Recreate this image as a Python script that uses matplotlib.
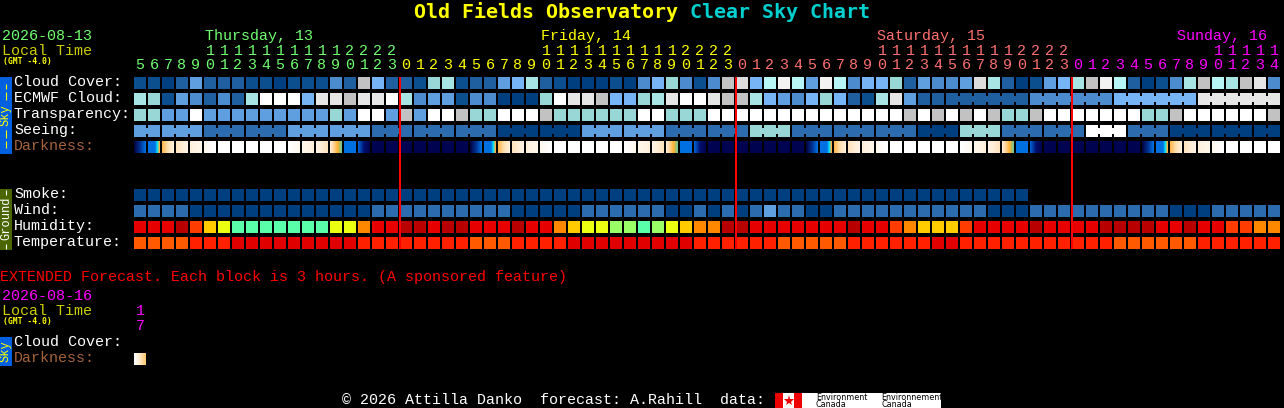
import numpy as np
import matplotlib
matplotlib.use("Agg")
import matplotlib.pyplot as plt
from matplotlib.colors import LinearSegmentedColormap
from matplotlib.patches import Rectangle

# sky colour levels, darkest blue to white and grey
sky_colors = ["#003f7f", "#0c4f8f", "#1f5f9f", "#2c6cae", "#4c8cce", "#5f9fe0", "#76b4f6", "#99d6d6",
              "#a8e4e4", "#b8f6f6", "#ffffff", "#f2f2f2", "#e6e6e6", "#dcdcdc", "#c2c2c2"]
humidity_colors = ["#b80000", "#e60000", "#ff3c00", "#ff8800", "#ffcc00", "#eaff12", "#9aff66", "#5affaa"]
temp_colors = ["#e00000", "#ff2000", "#ff5a00"]

cloud_cover = [1, 1, 0, 2, 5, 2, 2, 2, 1, 1, 0, 1, 1, 1, 4, 2, 14, 6, 2, 2, 1,
               7, 8, 1, 2, 2, 5, 6, 8, 2, 1, 0, 0, 0, 1, 0, 4, 6, 7, 4, 1, 4, 14, 13, 6, 9, 11, 9, 5, 11, 9, 4,
               6, 6, 7, 2, 5, 4, 4, 5, 13, 8, 2, 0, 1, 5, 6, 8, 14, 11, 9, 2, 0, 1, 4, 8, 14, 9, 8, 14, 12, 4]
ecmwf_cloud = [8, 7, 1, 5, 4, 2, 4, 2, 8, 10, 10, 10, 6, 12, 12, 14, 12, 12, 10, 8, 4,
               5, 5, 1, 4, 4, 0, 0, 0, 7, 10, 12, 12, 14, 6, 6, 7, 8, 12, 10, 10, 12, 14, 14, 8, 6, 5, 4, 6, 7, 6, 2,
               1, 8, 12, 5, 2, 2, 2, 2, 2, 2, 2, 2, 4, 4, 4, 4, 4, 4, 6, 6, 6, 6, 6, 6, 12, 12, 12, 12, 12, 12]
transparency = [7, 7, 5, 5, 10, 5, 5, 5, 5, 5, 5, 5, 5, 5, 7, 5, 10, 10, 5, 14, 5,
                10, 10, 14, 7, 7, 10, 10, 10, 14, 7, 7, 7, 7, 7, 7, 10, 10, 7, 7, 7, 10, 10, 10, 10, 10, 10, 10, 10, 10, 10, 10,
                10, 10, 10, 14, 10, 14, 10, 14, 10, 14, 7, 7, 14, 10, 10, 10, 10, 10, 10, 10, 7, 7, 14, 10, 10, 10, 10, 10, 10, 14]
seeing = [5, 5, 5, 5, 5, 3, 3, 3, 3, 3, 3, 5, 5, 5, 5, 5, 5, 3, 3, 3, 3, 3, 3, 3, 3, 3, 0, 0, 0, 0, 0, 0,
          5, 5, 5, 5, 5, 5, 3, 3, 3, 3, 3, 3, 7, 7, 7, 3, 3, 3, 3, 3, 3, 3, 3, 3, 0, 0, 0, 7, 7, 7,
          3, 3, 3, 3, 3, 3, 10, 10, 10, 3, 3, 3, 0, 0, 0, 0, 0, 0, 0, 0]
smoke = [0, 0, 0, 0, 0, 0, 0, 0, 0, 0, 0, 0, 0, 0, 0, 0, 0, 0, 0, 0, 0, 0, 0, 0, 0, 0, 0, 0, 0, 0, 0, 0,
         0, 0, 0, 0, 0, 0, 0, 0, 0, 0, 0, 0, 0, 0, 0, 0, 0, 0, 0, 0, 0, 0, 0, 0, 0, 0, 0, 0, 0, 0, 0, 0]
wind = [3, 3, 3, 3, 0, 0, 0, 0, 0, 0, 0, 0, 0, 0, 0, 0, 0, 3, 3, 3, 3, 3, 3, 3, 3, 3, 3, 0, 0, 0, 0, 0,
        3, 3, 3, 3, 3, 3, 0, 0, 3, 0, 3, 0, 3, 5, 3, 3, 0, 0, 3, 3, 3, 3, 3, 3, 3, 3, 3, 3, 3, 0, 0, 0,
        3, 3, 3, 3, 3, 3, 3, 3, 3, 3, 0, 0, 0, 3, 3, 3, 3, 3]
humidity = [1, 1, 1, 0, 2, 4, 5, 7, 7, 7, 7, 7, 7, 7, 5, 5, 3, 1, 1, 0, 0,
            1, 0, 0, 1, 1, 1, 0, 1, 1, 3, 4, 5, 5, 6, 6, 7, 6, 5, 4, 3, 3, 0, 0, 1, 1, 1, 1, 1, 1, 1, 0,
            1, 1, 2, 3, 4, 4, 4, 2, 1, 1, 1, 1, 0, 1, 1, 1, 1, 0, 0, 0, 0, 1, 1, 0, 1, 1, 2, 2, 3, 3]
temperature = [2, 2, 2, 2, 1, 1, 1, 0, 0, 0, 0, 0, 0, 0, 0, 0, 1, 1, 1, 1, 1, 1, 1, 1, 2, 2, 2, 1, 1, 1, 1,
               0, 0, 0, 0, 0, 0, 0, 0, 0, 1, 1, 1, 1, 1, 1, 2, 2, 2, 2, 2, 1,
               1, 1, 1, 1, 1, 0, 0, 1, 1, 1, 1, 1, 1, 1, 1, 1, 1, 1, 2, 2, 2, 2, 2, 2, 1, 1, 1, 1, 1, 1]

# darkness cells are gradients, each kind has its own colour stops
dark_kinds = {
    "N": ["#000450", "#000450"],
    "A": ["#000440", "#003090", "#0070e0"],
    "B": ["#0070e0", "#0070e0", "#0070e0", "#0070e0", "#00e0ff", "#ffb040"],
    "C": ["#ffb850", "#ffe0b0", "#ffeed8"],
    "D": ["#ffe4c0", "#fff4e6"],
    "E": ["#fff0dc", "#fff8ee"],
    "F": ["#fff8f0", "#ffffff"],
    "W": ["#ffffff", "#ffffff"],
    "G": ["#ffffff", "#fff8f0"],
    "H": ["#fff8ee", "#fff0dc"],
    "I": ["#fff4e6", "#ffe4c0"],
    "J": ["#ffecd0", "#ffd090", "#ffb030", "#70c890"],
    "K": ["#0070e0", "#0070e0"],
    "L": ["#0060d0", "#001070", "#000450"],
    "X": ["#ffffff", "#ffe8c8", "#ffc870"],
}
darkness = list("ABCDEFWWWWWGHIJKLNNNNNNN"
                "ABCDEFWWWWWGHIJKLNNNNNNN"
                "ABCDEFWWWWWGHIJKLNNNNNNN"
                "ABCDEFWWWW")
ext_darkness = ["X"]

hours = [5, 6, 7, 8, 9, 10, 11, 12, 13, 14, 15, 16, 17, 18, 19, 20, 21, 22, 23,
         0, 1, 2, 3, 4, 5, 6, 7, 8, 9, 10, 11, 12, 13, 14, 15, 16, 17, 18, 19, 20, 21, 22, 23,
         0, 1, 2, 3, 4, 5, 6, 7, 8, 9, 10, 11, 12, 13, 14, 15, 16, 17, 18, 19, 20, 21, 22, 23,
         0, 1, 2, 3, 4, 5, 6, 7, 8, 9, 10, 11, 12, 13, 14]
day_colors = ["#70ff70", "#ffff00", "#ff7070", "#ff00ff"]
day_names = ["Thursday, 13", "Friday, 14", "Saturday, 15", "Sunday, 16"]
day_label_x = [205, 541, 877, 1177]

X0 = 134
STEP = 14
CELL = 12
FONT = "Liberation Mono"
SMALL_FONT = "DejaVu Sans Mono"


def px(size):
    return size * 72 / 100


def label(x, y, s, color="white", size=15, **kw):
    kw.setdefault("family", FONT)
    ax.text(x, y, s, color=color, fontsize=px(size), va="baseline", **kw)


def draw_row(y, values, colors, joined=None):
    for i, v in enumerate(values):
        x = X0 + STEP * i
        ax.add_patch(Rectangle((x, y), CELL, CELL, fc=colors[v], lw=0, antialiased=False))
        if joined is not None and i + 1 < len(values) and joined(i):
            ax.add_patch(Rectangle((x + CELL, y + 3), STEP - CELL, CELL - 6, fc=colors[v], lw=0, antialiased=False))


def draw_dark(y, kinds):
    for i, k in enumerate(kinds):
        x = X0 + STEP * i
        cmap = LinearSegmentedColormap.from_list(k, dark_kinds[k])
        grad = cmap(np.linspace(0, 1, CELL))[None, :, :]
        ax.imshow(grad, extent=[x, x + CELL, y + CELL, y], interpolation="nearest", aspect="auto", zorder=2)


fig = plt.figure(figsize=(12.84, 4.08), dpi=100, facecolor="black")
ax = fig.add_axes([0, 0, 1, 1])
ax.set_facecolor("black")
ax.set_xlim(0, 1284)
ax.set_ylim(408, 0)
ax.autoscale(False)
ax.axis("off")

# title
ax.text(414, 18, "Old Fields Observatory", color="#ffff00", fontsize=px(20), family="DejaVu Sans Mono",
        weight="bold", va="baseline")
ax.text(690, 18, "Clear Sky Chart", color="#00d0d0", fontsize=px(20), family="DejaVu Sans Mono",
        weight="bold", va="baseline")

# header on the left
label(2, 40, "2026-08-13", "#70ff70")
label(2, 55, "Local Time", "#cccc00")
label(3, 64, "(GMT -4.0)", "#ffff00", size=8, weight="bold", family=SMALL_FONT)

# hour digits, colour changes at each midnight
day = 0
midnights = []
for i, h in enumerate(hours):
    if h == 0:
        day += 1
        midnights.append(i)
    cx = X0 + STEP * i + 6
    label(cx, 69, str(h % 10), day_colors[day], ha="center")
    if h >= 10:
        label(cx, 55, str(h // 10), day_colors[day], ha="center")

for name, color, x in zip(day_names, day_colors, day_label_x):
    label(x, 40, name, color)

# rows
sky_rows = [("Cloud Cover:", cloud_cover), ("ECMWF Cloud:", ecmwf_cloud), ("Transparency:", transparency), ("Seeing:", seeing)]
for n, (name, values) in enumerate(sky_rows):
    label(14, 86 + 16 * n, name)
draw_row(77, cloud_cover, sky_colors)
draw_row(93, ecmwf_cloud, sky_colors, joined=lambda i: i >= 58 and (i - 57) % 6 != 0)
draw_row(109, transparency, sky_colors)
draw_row(125, seeing, sky_colors, joined=lambda i: (i - 1) % 3 != 0)
label(14, 150, "Darkness:", "#a5633c")
draw_dark(141, darkness)

label(14, 198, "Smoke:")
label(14, 214, "Wind:")
label(14, 230, "Humidity:")
label(14, 246, "Temperature:")
draw_row(189, smoke, sky_colors)
draw_row(205, wind, sky_colors)
draw_row(221, humidity, humidity_colors)
draw_row(237, temperature, temp_colors)

# midnight lines
for i in midnights:
    ax.add_patch(Rectangle((X0 + STEP * i - 1, 77), 2, 172, fc="#ff0000", lw=0, snap=False, zorder=5))

# side bars
ax.add_patch(Rectangle((0, 77), 12, 77, fc="#0060e0", lw=0, antialiased=False))
ax.text(6, 115, "Sky", color="#ffff00", fontsize=px(12), family=FONT, rotation=90, ha="center", va="center")
for y0, y1 in [(84, 89), (92, 100), (130, 138), (141, 148)]:
    ax.plot([6, 6], [y0, y1], color="#ffff00", lw=0.8, solid_capstyle="butt")

ax.add_patch(Rectangle((0, 189), 12, 61, fc="#4a6600", lw=0, antialiased=False))
ax.text(6, 218, "Ground", color="white", fontsize=px(12), family=FONT, rotation=90, ha="center", va="center")
for y0, y1 in [(190, 195), (244, 249)]:
    ax.plot([6, 6], [y0, y1], color="white", lw=0.8, solid_capstyle="butt")

# extended forecast
label(0, 281, "EXTENDED Forecast. Each block is 3 hours. (A sponsored feature)", "#ff0000")
label(2, 300, "2026-08-16", "#ff00ff")
label(2, 315, "Local Time", "#cccc00")
label(3, 324, "(GMT -4.0)", "#ffff00", size=8, weight="bold", family=SMALL_FONT)
label(140, 315, "1", "#ff00ff", ha="center")
label(140, 330, "7", "#ff00ff", ha="center")
label(14, 346, "Cloud Cover:")
label(14, 362, "Darkness:", "#a5633c")
draw_dark(353, ext_darkness)
ax.add_patch(Rectangle((0, 337), 12, 29, fc="#0060e0", lw=0, antialiased=False))
ax.text(6, 351, "Sky", color="#ffff00", fontsize=px(12), family=FONT, rotation=90, ha="center", va="center")

# footer
label(342, 404, "\u00a9 2026 Attilla Danko  forecast: A.Rahill  data:")
ax.add_patch(Rectangle((775, 393), 166, 15, fc="white", lw=0, antialiased=False))
ax.add_patch(Rectangle((775, 393), 8, 15, fc="#ee0000", lw=0, antialiased=False))
ax.add_patch(Rectangle((794, 393), 8, 15, fc="#ee0000", lw=0, antialiased=False))
ax.plot(788.5, 400.5, marker="*", color="#ee0000", ms=8, mew=0)
clip = Rectangle((775, 393), 166, 15, transform=ax.transData)
for x, word in [(816, "Environment"), (881, "Environnement")]:
    t = ax.text(x, 400, word, color="black", fontsize=px(8), family="DejaVu Sans", va="baseline")
    t.set_clip_path(clip)
    ax.text(x, 407, "Canada", color="black", fontsize=px(8), family="DejaVu Sans", va="baseline")

fig.savefig("out.png", dpi=100, facecolor="black")
